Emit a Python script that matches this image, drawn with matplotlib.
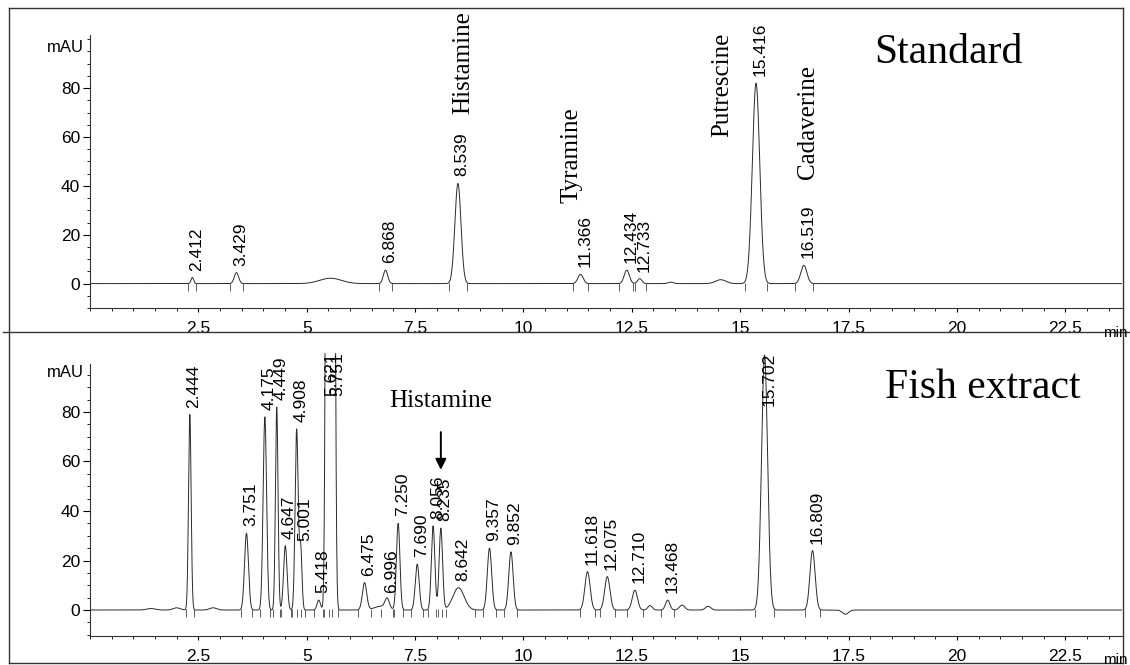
import numpy as np
import matplotlib.pyplot as plt
from matplotlib.lines import Line2D
from matplotlib.ticker import FixedLocator, MultipleLocator

SANS = "Liberation Sans"
SERIF = "Liberation Serif"

# ---- Standard run: retention time (min), height (mAU), width (sigma, min), printed label
std_rt = [2.412, 3.429, 5.60, 6.868, 8.539, 11.366, 12.434, 12.733, 13.45, 14.60, 15.416, 16.519]
std_height = [2.5, 4.5, 2.2, 5.5, 41, 3.8, 5.5, 2.0, 0.6, 1.6, 82, 7.5]
std_sigma = [0.03, 0.05, 0.25, 0.05, 0.07, 0.06, 0.06, 0.05, 0.06, 0.12, 0.085, 0.07]
std_labels = ["2.412", "3.429", "", "6.868", "8.539", "11.366", "12.434", "12.733",
              "", "", "15.416", "16.519"]
std_names = ["Histamine", "Tyramine", "Putrescine", "Cadaverine"]

# ---- Fish extract run
fish_rt = [1.55, 2.14, 2.444, 2.98, 3.751, 4.175, 4.449, 4.647, 4.908, 5.001, 5.418,
           5.621, 5.751, 6.475, 6.85, 6.996, 7.250, 7.690, 8.056, 8.235, 8.642, 9.357,
           9.852, 11.618, 12.075, 12.710, 13.06, 13.468, 13.80, 14.40, 15.702, 16.809,
           17.57]
fish_height = [0.6, 0.9, 79, 0.9, 31, 78, 82, 26, 73, 25, 4,
               400, 400, 11, 1.5, 4, 35, 18.5, 34, 33, 9, 25,
               23.5, 15.5, 13.5, 8, 1.8, 4, 2, 1.5, 103, 24,
               -1.7]
fish_sigma = [0.1, 0.08, 0.03, 0.08, 0.045, 0.04, 0.03, 0.04, 0.035, 0.03, 0.04,
              0.035, 0.035, 0.05, 0.15, 0.05, 0.04, 0.045, 0.04, 0.04, 0.13, 0.05,
              0.05, 0.06, 0.06, 0.06, 0.05, 0.05, 0.06, 0.06, 0.07, 0.06,
              0.07]
fish_labels = ["", "", "2.444", "", "3.751", "4.175", "4.449", "4.647", "4.908", "5.001",
               "5.418", "5.621", "5.751", "6.475", "", "6.996", "7.250", "7.690", "8.056",
               "8.235", "8.642", "9.357", "9.852", "11.618", "12.075", "12.710", "",
               "13.468", "", "", "15.702", "16.809", ""]
fish_histamine_rt = 8.235

# scanned traces sit slightly left of their printed retention times
std_shift = -0.05
fish_shift = -0.14

t = np.linspace(0, 23.8, 8000)


def trace(rt, height, sigma, shift):
    y = np.zeros_like(t)
    for c, h, s in zip(rt, height, sigma):
        y += h * np.exp(-0.5 * ((t - (c + shift)) / s) ** 2)
    return y


def style_axes(ax, ylim, spine_top):
    ax.set_xlim(0, 23.8)
    ax.set_ylim(*ylim)
    for side in ["top", "right"]:
        ax.spines[side].set_visible(False)
    ax.spines["left"].set_bounds(ylim[0], spine_top)
    for side in ["left", "bottom"]:
        ax.spines[side].set_linewidth(0.8)
        ax.spines[side].set_color("#333333")
    ax.set_xticks([2.5, 5, 7.5, 10, 12.5, 15, 17.5, 20, 22.5])
    ax.set_xticklabels(["2.5", "5", "7.5", "10", "12.5", "15", "17.5", "20", "22.5"])
    ax.xaxis.set_minor_locator(MultipleLocator(0.5))
    ax.set_yticks([0, 20, 40, 60, 80])
    ax.yaxis.set_minor_locator(FixedLocator(np.arange(-10, spine_top, 5)))
    ax.tick_params(axis="y", which="major", length=5, width=0.8, pad=2, labelsize=12.5)
    ax.tick_params(axis="y", which="minor", length=2.5, width=0.6)
    ax.tick_params(axis="x", which="major", length=3, width=0.8, pad=6.5, labelsize=12.5)
    ax.tick_params(axis="x", which="minor", length=2.5, width=0.6)
    for lab in ax.get_xticklabels() + ax.get_yticklabels():
        lab.set_family(SANS)
    ax.patch.set_visible(False)


def draw_run(ax, rt, height, sigma, labels, shift):
    y = trace(rt, height, sigma, shift)
    ax.plot(t, y, color="#2a2a2a", lw=0.7)
    texts = []
    top = ax.get_ylim()[1]
    for c, h, s, lab in zip(rt, height, sigma, labels):
        if not lab:
            continue
        x = c + shift
        # integration markers at peak start / end
        ax.vlines([x - 3 * s, x + 3 * s], -3, 0.3, color="#444444", lw=0.6)
        txt = ax.annotate(lab, (x, min(h, top)), xytext=(3, 5), textcoords="offset points",
                          rotation=90, ha="center", va="bottom", fontsize=12.5,
                          family=SANS, annotation_clip=False)
        texts.append(txt)
    return texts


def fit_labels(fig, ax, texts, cap):
    renderer = fig.canvas.get_renderer()
    cap_px = ax.transData.transform((0, cap))[1]
    for txt in texts:
        bb = txt.get_window_extent(renderer)
        if bb.y1 > cap_px:
            dx, dy = txt.xyann
            txt.xyann = (dx, dy - (bb.y1 - cap_px) * 72 / fig.dpi)


fig = plt.figure(figsize=(11.3, 6.65), dpi=100)
ax_std = fig.add_axes([0.0796, 0.5368, 0.913, 0.4115])
ax_fish = fig.add_axes([0.0796, 0.0436, 0.913, 0.4262])

style_axes(ax_std, (-10, 102), 101.7)
style_axes(ax_fish, (-10.5, 104), 99.5)

std_texts = draw_run(ax_std, std_rt, std_height, std_sigma, std_labels, std_shift)
fish_texts = draw_run(ax_fish, fish_rt, fish_height, fish_sigma, fish_labels, fish_shift)

for ax, yv in [(ax_std, 96.6), (ax_fish, 95.8)]:
    ax.text(-0.15, yv, "mAU", ha="right", va="center", fontsize=12, family=SANS)

# compound names, standard run
for name, x, yv in zip(std_names, [8.6, 11.1, 14.58, 16.56], [90.3, 52.5, 81.2, 66]):
    ax_std.text(x, yv, name, rotation=90, ha="center", va="center", fontsize=18,
                family=SERIF)
ax_std.text(19.8, 90.3, "Standard", ha="center", va="baseline", fontsize=30, family=SERIF)

ax_fish.text(20.6, 85.7, "Fish extract", ha="center", va="baseline", fontsize=30,
             family=SERIF)
ax_fish.text(fish_histamine_rt + fish_shift, 82, "Histamine", ha="center", va="baseline",
             fontsize=18, family=SERIF)
ax_fish.annotate("", xy=(fish_histamine_rt + fish_shift, 55.5),
                 xytext=(fish_histamine_rt + fish_shift, 73),
                 arrowprops=dict(arrowstyle="-|>", color="black", lw=1.4, mutation_scale=16))

fig.canvas.draw()
fit_labels(fig, ax_std, std_texts, 107)
fit_labels(fig, ax_fish, fish_texts, 104)

# "min" unit labels
W, H = 1130.0, 665.0
fig.text(1103 / W, 1 - 333 / H, "min", ha="left", va="center", fontsize=11, family=SANS)
fig.text(1103 / W, 1 - 660 / H, "min", ha="left", va="center", fontsize=11, family=SANS)

# page frame and divider
frame = [((9, 8), (1123, 8)), ((9, 8), (9, 663)), ((1123, 8), (1123, 663)),
         ((9, 663), (1123, 663)), ((3, 332), (1130, 332))]
for (x0, y0), (x1, y1) in frame:
    fig.add_artist(Line2D([x0 / W, x1 / W], [1 - y0 / H, 1 - y1 / H],
                          transform=fig.transFigure, color="#333333", lw=1.0))

fig.savefig("out.png", dpi=100)
